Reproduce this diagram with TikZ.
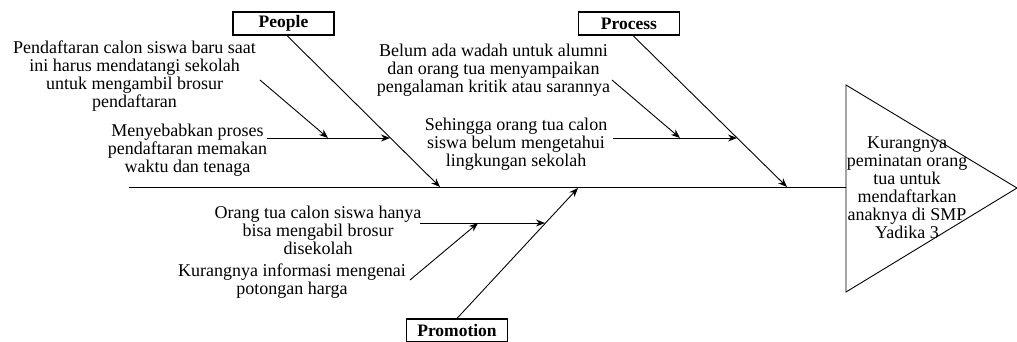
\documentclass[tikz,border=0pt]{standalone}
\usepackage{fontspec}
\setmainfont{Liberation Serif}
\usetikzlibrary{arrows.meta}
\begin{document}
\begin{tikzpicture}[x=1pt,y=-1pt,line width=0.9pt,
  catbox/.style={draw,line width=1.2pt,minimum width=101pt,minimum height=23pt,inner sep=0pt,
    font=\bfseries\fontsize{17.5}{18}\selectfont},
  cause/.style={align=center,inner sep=0pt,font=\fontsize{18}{18}\selectfont},
  arr/.style={-{Stealth[length=9pt,width=7pt]}}]
\useasboundingbox (0,0) rectangle (1017,341);
\clip (0,0) rectangle (1017,341);

% category boxes
\node[catbox] (people)    at (283.5,23.5) {People};
\node[catbox] (process)   at (629,23.5)   {Process};
\node[catbox] (promotion) at (457,330.5)  {Promotion};

% head of the fish
\coordinate (tl) at (846,85);
\coordinate (bl) at (846,292);
\coordinate (tip) at (1017,188);
\draw (tl) -- (tip) -- (bl) -- cycle;
\node[cause] (effect) at (907,188) {Kurangnya\\peminatan orang\\tua untuk\\mendaftarkan\\anaknya di SMP\\Yadika 3};

% spine
\coordinate (tail) at (129,187);
\coordinate (head) at (846,187);
\draw (tail) -- (head);

% main bones
\coordinate (pe) at (440,187);
\coordinate (pr) at (787,187);
\coordinate (pm) at (578,188);
\draw[arr] ([xshift=3.5pt]people.south) -- (pe);
\draw[arr] ([xshift=4pt]process.south) -- (pr);
\draw[arr] (promotion.north) -- (pm);

% People causes
\node[cause] (c1) at (134.5,76) {Pendaftaran calon siswa baru saat\\ini harus mendatangi sekolah\\untuk mengambil brosur\\pendaftaran};
\node[cause] (c2) at (187.5,150) {Menyebabkan proses\\pendaftaran memakan\\waktu dan tenaga};
\coordinate (h1s) at (267,138);
\coordinate (h1e) at (390,138);
\coordinate (d1s) at (260,80);
\coordinate (d1e) at (328,138);
\draw[arr] (h1s) -- (h1e);
\draw[arr] (d1s) -- (d1e);

% Process causes
\node[cause] (c3) at (493.5,70) {Belum ada wadah untuk alumni\\dan orang tua menyampaikan\\pengalaman kritik atau sarannya};
\node[cause] (c4) at (516,144) {Sehingga orang tua calon\\siswa belum mengetahui\\lingkungan sekolah};
\coordinate (h2s) at (613,138);
\coordinate (h2e) at (737,138);
\coordinate (d2s) at (612,80);
\coordinate (d2e) at (680,138);
\draw[arr] (h2s) -- (h2e);
\draw[arr] (d2s) -- (d2e);

% Promotion causes
\node[cause] (c5) at (318,230) {Orang tua calon siswa hanya\\bisa mengabil brosur\\disekolah};
\node[cause] (c6) at (292,281) {Kurangnya informasi mengenai\\potongan harga};
\coordinate (h3s) at (420,223);
\coordinate (h3e) at (545,223);
\coordinate (d3s) at (410,280);
\coordinate (d3e) at (478,223);
\draw[arr] (h3s) -- (h3e);
\draw[arr] (d3s) -- (d3e);
\end{tikzpicture}
\end{document}
